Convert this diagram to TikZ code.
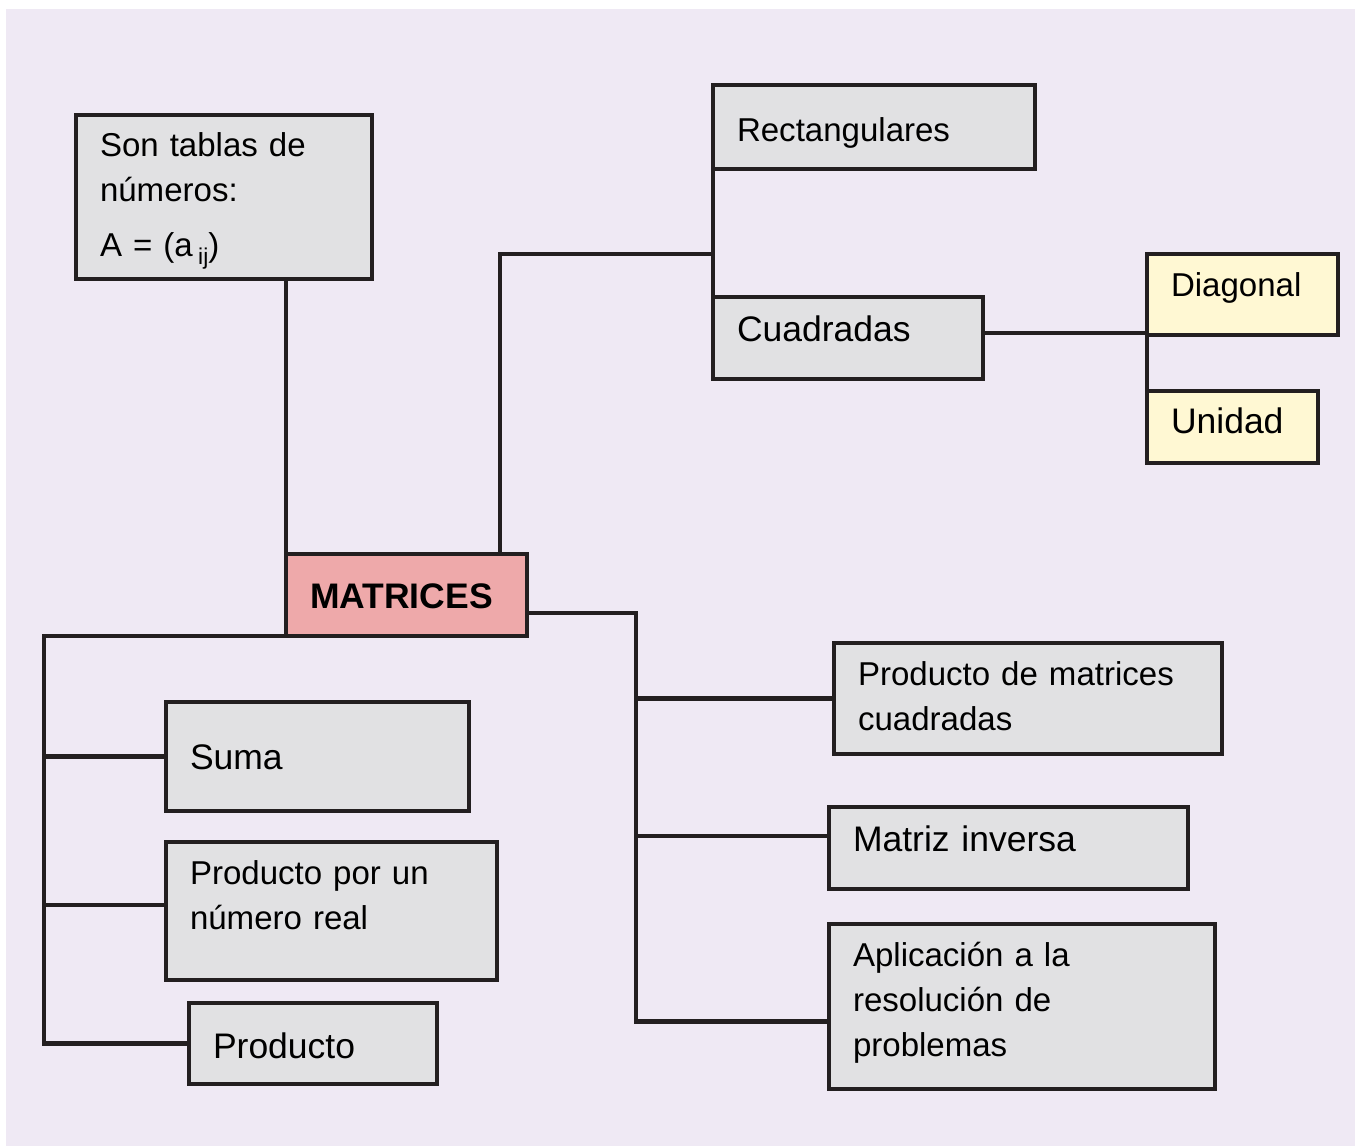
\documentclass[tikz,border=0pt]{standalone}
\usepackage{fontspec}
\setmainfont{Liberation Sans}
\usepackage{xcolor}

\definecolor{bgcol}{HTML}{EFE9F4}
\definecolor{boxgray}{HTML}{E1E1E3}
\definecolor{boxpink}{HTML}{EEA9AA}
\definecolor{boxyellow}{HTML}{FFF8D3}
\definecolor{linecol}{HTML}{231F20}

\tikzset{
  box/.style={draw=linecol, line width=1.35pt, fill=boxgray, anchor=north west,
    outer sep=0pt, inner xsep=0.24cm, inner ysep=0pt, align=left,
    font=\fontsize{9.4}{12.8}\selectfont},
  bigbox/.style={box, font=\fontsize{10.1}{12.8}\selectfont},
  txtdown/.style={text height=#1, text depth=0pt},
  txtup/.style={text height=0pt, text depth=#1},
  link/.style={draw=linecol, line width=1.35pt},
}

\begin{document}
\begin{tikzpicture}

    % Background
    \useasboundingbox (0,0) rectangle (13.55,-11.46);
    \fill[white] (0,0) rectangle (13.55,-11.46);
    \fill[bgcol] (0.06,-0.09) rectangle (13.55,-11.46);

    % Central node
    \node[box, fill=boxpink, text width=1.93cm, minimum height=0.82cm, txtdown=0.27cm,
      font=\fontsize{10.1}{12.8}\selectfont\bfseries] (mat) at (2.86,-5.54) {MATRICES};

    % Definition
    \node[box, text width=2.48cm, minimum height=1.64cm, txtup=0.81cm] (son) at (0.76,-1.15)
      {Son tablas de\\números:\\[0.1cm]A = (a\,\raisebox{-0.45ex}{\fontsize{6.5}{7}\selectfont ij})};

    % Types
    \node[box, text width=2.74cm, minimum height=0.84cm, txtdown=0.29cm] (rect) at (7.13,-0.85) {Rectangulares};
    \node[bigbox, text width=2.22cm, minimum height=0.82cm, txtdown=0.06cm] (cuad) at (7.13,-2.97) {Cuadradas};
    \node[box, fill=boxyellow, text width=1.43cm, minimum height=0.81cm, txtdown=0.04cm] (diag) at (11.47,-2.54) {Diagonal};
    \node[bigbox, fill=boxyellow, text width=1.23cm, minimum height=0.72cm, txtdown=0.13cm] (unid) at (11.47,-3.91) {Unidad};

    % Operations
    \node[bigbox, text width=2.55cm, minimum height=1.09cm, txtdown=0.25cm] (suma) at (1.66,-7.02) {Suma};
    \node[box, text width=2.83cm, minimum height=1.38cm, txtup=0.53cm] (ppr) at (1.66,-8.42) {Producto por un\\número real};
    \node[bigbox, text width=2.00cm, minimum height=0.81cm, txtdown=0.30cm] (prod) at (1.89,-10.03) {Producto};

    % Square matrices
    \node[box, text width=3.40cm, minimum height=1.11cm, txtup=0.26cm] (pdm) at (8.34,-6.43) {Producto de matrices\\cuadradas};
    \node[bigbox, text width=3.11cm, minimum height=0.82cm, txtdown=0.07cm] (inv) at (8.29,-8.07) {Matriz inversa};
    \node[box, text width=3.38cm, minimum height=1.65cm, txtup=0.80cm] (apl) at (8.29,-9.24) {Aplicación a la\\resolución de\\problemas};

    % Links at the top
    \coordinate (jtop) at (7.13,-2.54);
    \draw[link] (mat.north west) -- (mat.north west |- son.south);
    \draw[link] (mat.north west) ++(2.14,0) |- (jtop);
    \draw[link] (rect.south west) -- (cuad.north west);
    \draw[link] ([yshift=0.05cm]cuad.east) -- ([yshift=0.05cm]cuad.east -| diag.west);
    \draw[link] (diag.south west) -- (unid.north west);

    % Left tree
    \coordinate (lroot) at (0.44,-6.36);
    \draw[link] (mat.south west) -- (mat.south west -| lroot) |- (prod.west);
    \draw[link] (lroot |- suma.west) -- (suma.west);
    \draw[link] ([yshift=0.06cm]ppr.west -| lroot) -- ([yshift=0.06cm]ppr.west);

    % Right tree
    \coordinate (rroot) at (6.36,-6.13);
    \draw[link] (mat.east |- rroot) -- (rroot) |- ([yshift=-0.15cm]apl.west);
    \draw[link] (rroot |- pdm.west) -- (pdm.west);
    \draw[link] ([yshift=0.12cm]inv.west -| rroot) -- ([yshift=0.12cm]inv.west);

\end{tikzpicture}
\end{document}
